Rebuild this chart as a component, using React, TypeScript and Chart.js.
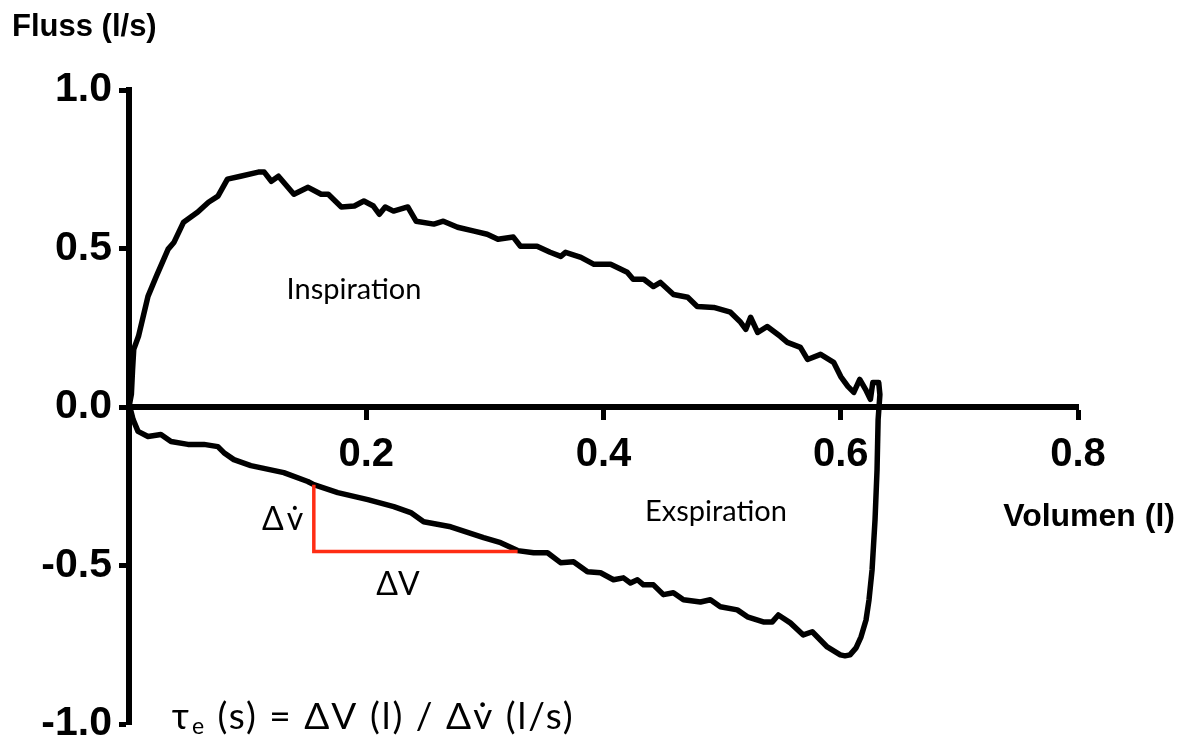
import React, { useEffect, useRef } from 'react';
import { Chart, registerables } from 'chart.js';

Chart.register(...registerables);

// ---- data (volume in l, flow in l/s) ----
const inspVolume = [
  0, 0.002, 0.003, 0.004, 0.008, 0.016, 0.023, 0.033, 0.038, 0.046,
  0.058, 0.067, 0.075, 0.083, 0.094, 0.109, 0.114, 0.120, 0.126, 0.139,
  0.151, 0.162, 0.168, 0.179, 0.190, 0.198, 0.206, 0.211, 0.216, 0.223,
  0.235, 0.242, 0.257, 0.265, 0.277, 0.291, 0.302, 0.311, 0.324, 0.330,
  0.344, 0.355, 0.364, 0.368, 0.381, 0.392, 0.406, 0.420, 0.425, 0.434,
  0.442, 0.448, 0.459, 0.471, 0.479, 0.493, 0.507, 0.515, 0.520, 0.524,
  0.530, 0.538, 0.549, 0.555, 0.566, 0.572, 0.583, 0.594, 0.600, 0.606,
  0.611, 0.616, 0.621, 0.625, 0.627, 0.632, 0.633,
];
const inspFlow = [
  0, 0.04, 0.118, 0.182, 0.223, 0.349, 0.412, 0.498, 0.520, 0.583,
  0.615, 0.646, 0.665, 0.719, 0.728, 0.741, 0.741, 0.712, 0.728, 0.671,
  0.693, 0.671, 0.671, 0.631, 0.634, 0.650, 0.634, 0.608, 0.631, 0.618,
  0.631, 0.586, 0.577, 0.586, 0.567, 0.555, 0.545, 0.529, 0.536, 0.507,
  0.507, 0.488, 0.475, 0.488, 0.472, 0.450, 0.450, 0.425, 0.403, 0.403,
  0.380, 0.393, 0.355, 0.346, 0.317, 0.314, 0.299, 0.270, 0.245, 0.283,
  0.235, 0.254, 0.223, 0.204, 0.188, 0.150, 0.166, 0.141, 0.096, 0.065,
  0.046, 0.087, 0.055, 0.024, 0.077, 0.077, 0.039,
];
const exspVolume = [
  0.6315, 0.6306, 0.6289, 0.6264, 0.6238, 0.6213, 0.6171, 0.6129, 0.6078, 0.6036,
  0.5996, 0.5886, 0.576, 0.5684, 0.5575, 0.5474, 0.5423, 0.5347, 0.5213, 0.5128,
  0.4985, 0.4901, 0.4817, 0.4674, 0.4589, 0.4505, 0.4421, 0.4337, 0.4286, 0.4227,
  0.4168, 0.4084, 0.3975, 0.3865, 0.3747, 0.3638, 0.3528, 0.3411, 0.3276, 0.3133,
  0.2989, 0.2712, 0.2484, 0.2375, 0.2232, 0.2013, 0.176, 0.1558, 0.1507, 0.1305,
  0.1027, 0.0884, 0.08, 0.0749, 0.0632, 0.0497, 0.0354, 0.0269, 0.016, 0.0076,
  0.0034, 0.0017, 0,
];
const exspFlow = [
  -0.040, -0.198, -0.356, -0.514, -0.609, -0.672, -0.725, -0.760, -0.782, -0.785,
  -0.782, -0.757, -0.709, -0.719, -0.681, -0.656, -0.678, -0.678, -0.662, -0.640,
  -0.630, -0.608, -0.615, -0.608, -0.586, -0.592, -0.561, -0.561, -0.545, -0.555,
  -0.539, -0.545, -0.523, -0.520, -0.488, -0.491, -0.460, -0.460, -0.453, -0.428,
  -0.412, -0.378, -0.362, -0.333, -0.314, -0.292, -0.270, -0.245, -0.235, -0.207,
  -0.185, -0.166, -0.144, -0.125, -0.118, -0.118, -0.109, -0.087, -0.093, -0.077,
  -0.039, -0.014, 0,
];
// slope triangle (ΔV / ΔV̇)
const slopeVolume = [0.1558, 0.1558, 0.3276];
const slopeFlow = [-0.245, -0.456, -0.456];

const xTickValues = [0.2, 0.4, 0.6, 0.8];
const yTickValues = [1.0, 0.5, 0.0, -0.5, -1.0];

const xTitle = 'Volumen (l)';
const yTitle = 'Fluss (l/s)';
const inspLabel = 'Inspiration';
const exspLabel = 'Exspiration';
const dFlowLabel = 'Δv\u0307';
const dVolLabel = 'ΔV';
const formulaTau = 'τ';
const formulaSub = 'e';
const formulaRest = ' (s) = ΔV (l) / Δv\u0307 (l/s)';

const BOLD = '"Liberation Sans", Arial, sans-serif';
const THIN = 'Lato, "Noto Sans", "DejaVu Sans", sans-serif';

const textPlugin = {
  id: 'texts',
  afterDraw(chart: any) {
    const { ctx, chartArea, scales } = chart;
    const x = scales.x;
    const y = scales.y;
    ctx.save();
    ctx.fillStyle = '#000';
    ctx.textBaseline = 'alphabetic';
    ctx.font = `bold 31px ${BOLD}`;
    ctx.textAlign = 'left';
    ctx.fillText(yTitle, chartArea.left - 117, chartArea.top - 54);
    ctx.font = `bold 32px ${BOLD}`;
    ctx.textAlign = 'right';
    ctx.fillText(xTitle, chartArea.right + 97, y.getPixelForValue(0) + 119);

    ctx.textBaseline = 'middle';
    ctx.textAlign = 'center';
    ctx.font = `29px ${THIN}`;
    ctx.fillText(inspLabel, x.getPixelForValue(0.1897), y.getPixelForValue(0.37));
    ctx.fillText(exspLabel, x.getPixelForValue(0.4948), y.getPixelForValue(-0.33));

    ctx.font = `32px ${THIN}`;
    (ctx as any).letterSpacing = '3px';
    ctx.fillText(dFlowLabel, x.getPixelForValue(0.1307), y.getPixelForValue(-0.357));
    (ctx as any).letterSpacing = '0px';
    ctx.fillText(dVolLabel, x.getPixelForValue(0.2268), y.getPixelForValue(-0.561));

    // formula
    ctx.textAlign = 'left';
    (ctx as any).letterSpacing = '2px';
    let fx = x.getPixelForValue(0.036);
    const fy = y.getPixelForValue(-0.978);
    ctx.font = `37px ${THIN}`;
    ctx.fillText(formulaTau, fx, fy);
    fx += ctx.measureText(formulaTau).width;
    ctx.font = `23px ${THIN}`;
    ctx.fillText(formulaSub, fx + 1, fy + 10);
    fx += ctx.measureText(formulaSub).width + 1;
    ctx.font = `37px ${THIN}`;
    ctx.fillText(formulaRest, fx, fy);
    (ctx as any).letterSpacing = '0px';
    ctx.restore();
  },
};

function zeroPadding(s: any) {
  s.paddingLeft = 0;
  s.paddingRight = 0;
  s.paddingTop = 0;
  s.paddingBottom = 0;
}

export default function App() {
  const ref = useRef<HTMLCanvasElement | null>(null);
  useEffect(() => {
    document.body.style.margin = '0';
    const loopData = [
      ...inspVolume.map((v, i) => ({ x: v, y: inspFlow[i] })),
      ...exspVolume.map((v, i) => ({ x: v, y: exspFlow[i] })),
    ];
    const slopeData = slopeVolume.map((v, i) => ({ x: v, y: slopeFlow[i] }));
    const chart = new Chart(ref.current as HTMLCanvasElement, {
      type: 'scatter',
      data: {
        datasets: [
          {
            data: slopeData,
            showLine: true,
            borderColor: '#ff2d14',
            borderWidth: 3.5,
            pointRadius: 0,
            tension: 0,
            borderJoinStyle: 'miter',
          },
          {
            data: loopData,
            showLine: true,
            borderColor: '#000',
            borderWidth: 5.5,
            pointRadius: 0,
            tension: 0,
            borderJoinStyle: 'round',
            borderCapStyle: 'round',
          },
        ],
      },
      options: {
        animation: false,
        responsive: false,
        devicePixelRatio: 1,
        layout: { padding: { left: 0, top: 90, right: 106, bottom: 19 } },
        plugins: {
          legend: { display: false },
          tooltip: { enabled: false },
        },
        scales: {
          x: {
            type: 'linear',
            position: { y: 0 },
            min: 0,
            max: 0.8,
            afterBuildTicks: (s: any) => {
              s.ticks = xTickValues.map((v) => ({ value: v }));
            },
            afterFit: zeroPadding,
            border: { display: true, color: '#000', width: 6 },
            grid: {
              display: true,
              drawOnChartArea: false,
              drawTicks: true,
              tickLength: 10,
              tickWidth: 5,
              tickColor: '#000',
            },
            ticks: {
              color: '#000',
              padding: 14,
              maxRotation: 0,
              font: { family: BOLD, size: 40, weight: 'bold' },
              callback: (v: any) => Number(v).toFixed(1),
            },
          },
          y: {
            type: 'linear',
            position: 'left',
            min: -1,
            max: 1,
            afterBuildTicks: (s: any) => {
              s.ticks = yTickValues.map((v) => ({ value: v }));
            },
            afterFit: (s: any) => {
              s.width = 129;
              zeroPadding(s);
            },
            border: { display: true, color: '#000', width: 6 },
            grid: {
              display: true,
              drawOnChartArea: false,
              drawTicks: true,
              tickLength: 10,
              tickWidth: 5,
              tickColor: '#000',
            },
            ticks: {
              color: '#000',
              padding: 7,
              font: { family: BOLD, size: 41, weight: 'bold' },
              callback: (v: any) => Number(v).toFixed(1),
            },
          },
        },
      },
      plugins: [textPlugin],
    } as any);
    return () => chart.destroy();
  }, []);
  return (
    <div style={{ position: 'absolute', left: 0, top: 0, width: 1184, height: 743, background: '#fff' }}>
      <canvas ref={ref} width={1184} height={743} />
    </div>
  );
}
